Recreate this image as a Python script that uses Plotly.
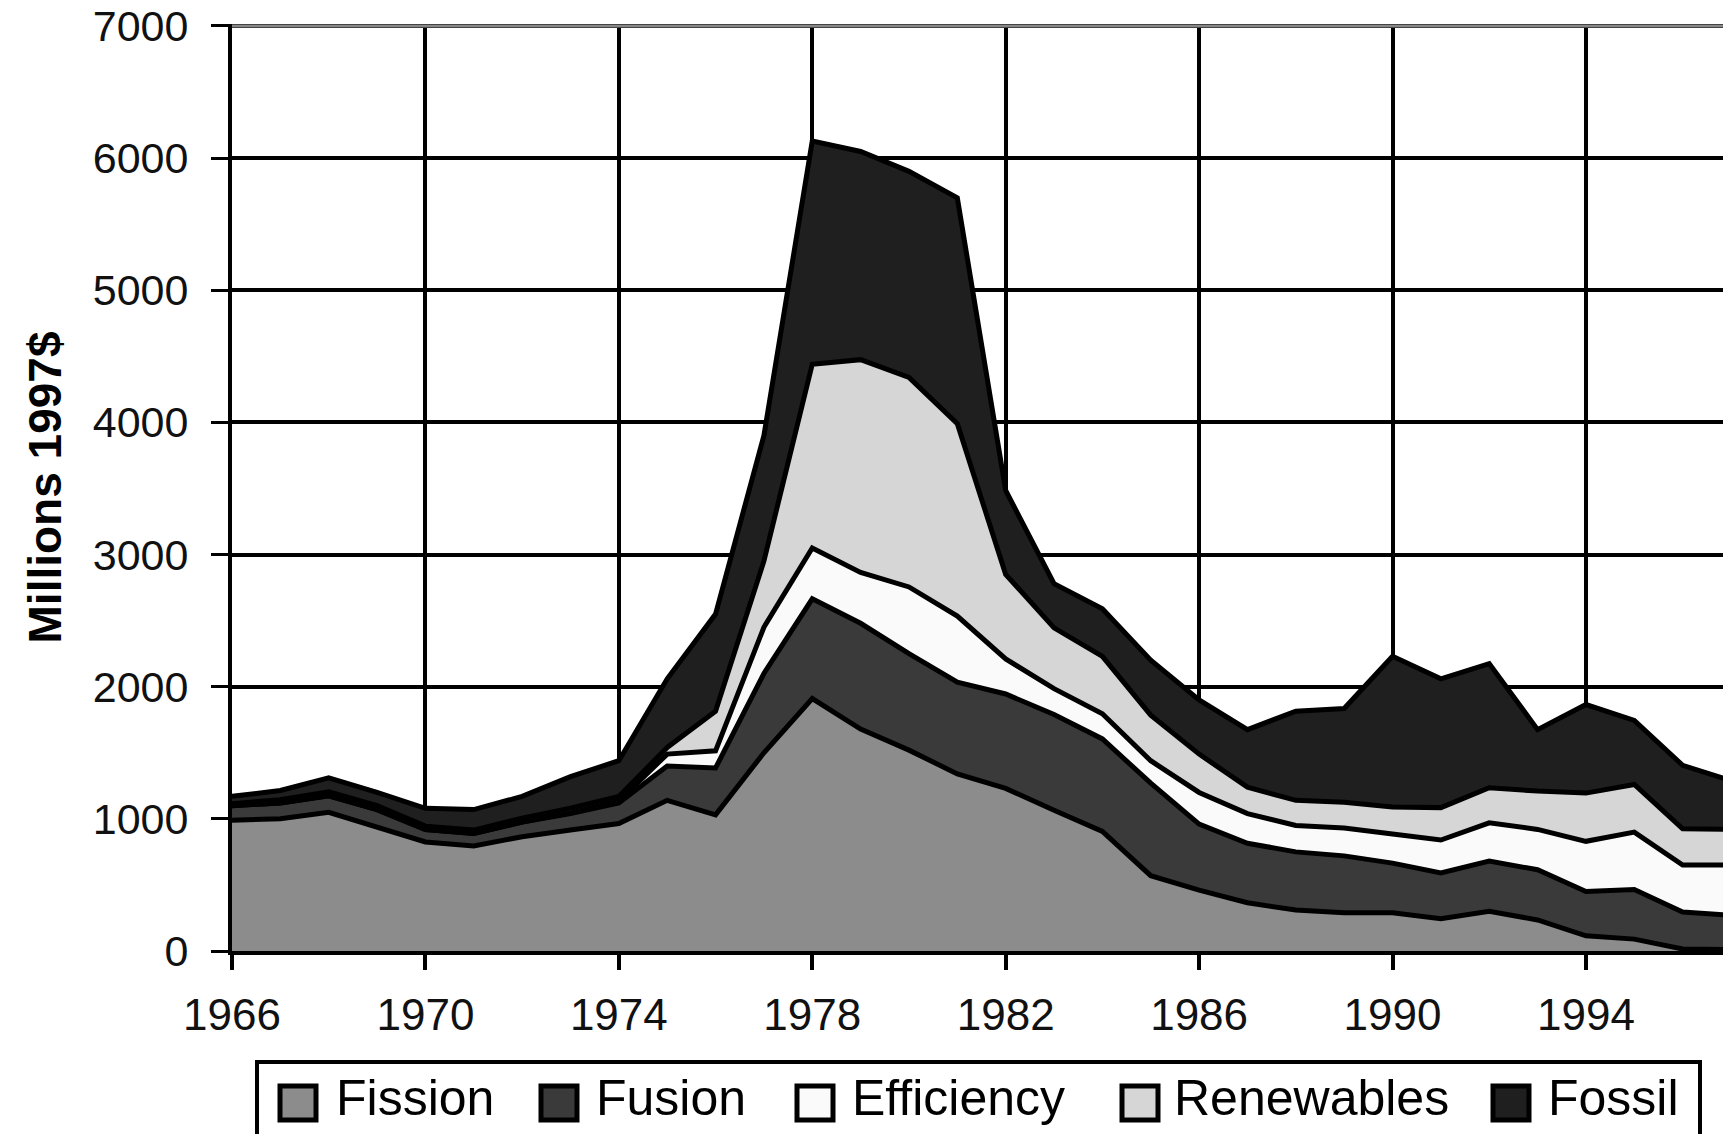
"""Energy R&D spending by technology, stacked area chart."""

import plotly.graph_objects as go

# data, millions of 1997 dollars per year
years = list(range(1966, 1998))
series_names = ["Fission", "Fusion", "Efficiency", "Renewables", "Fossil"]

fission = [990, 1000, 1050, 940, 825, 795, 865, 915, 965, 1140, 1030, 1500, 1910, 1680, 1520, 1340,
           1230, 1065, 905, 570, 460, 365, 310, 290, 290, 245, 300, 235, 115, 90, 15, 10]
fusion = [110, 120, 125, 130, 95, 95, 110, 125, 155, 260, 355, 600, 755, 800, 730, 695,
          715, 725, 700, 700, 500, 450, 440, 430, 375, 345, 380, 380, 335, 375, 280, 260]
efficiency = [0, 0, 0, 0, 0, 0, 0, 5, 15, 90, 130, 350, 385, 385, 505, 500,
              265, 195, 190, 170, 240, 225, 200, 210, 220, 250, 290, 305, 380, 435, 355, 380]
renewables = [15, 25, 30, 30, 25, 25, 30, 35, 35, 50, 300, 500, 1390, 1610, 1585, 1455,
              640, 460, 435, 345, 290, 200, 190, 195, 205, 245, 265, 290, 365, 360, 275, 270]
fossil = [55, 70, 105, 100, 135, 155, 165, 240, 270, 520, 735, 950, 1690, 1575, 1560, 1710,
          635, 335, 360, 415, 410, 435, 675, 710, 1140, 975, 940, 465, 670, 485, 480, 370]

x_ticks = [1966, 1970, 1974, 1978, 1982, 1986, 1990, 1994]
y_ticks = [0, 1000, 2000, 3000, 4000, 5000, 6000, 7000]

# styles
colors = ["#8c8c8c", "#3a3a3a", "#fafafa", "#d6d6d6", "#1f1f1f"]
FONT = "Liberation Sans, Arial, sans-serif"

# the page body adds an 8px margin, so the figure is laid out 8px smaller/shifted
PAGE_PAD = 8
W, H = 1731 - PAGE_PAD, 1134 - PAGE_PAD
L, R, T, B = 232 - PAGE_PAD, 0, 24 - PAGE_PAD, 183
PLOT_W = W - L - R
PLOT_H = H - T - B
Y_MAX = 7015  # a hair above 7000 so the top grid line stays inside the plot

# legend layout in window pixels
legend_symbol_left = [280, 541, 797, 1122, 1493]
legend_text_left = [334, 594, 850, 1172, 1546]


def px_x(px):
    return (px - PAGE_PAD - L) / PLOT_W


def px_y(py):
    return (H - B - (py - PAGE_PAD)) / PLOT_H


fig = go.Figure()

for name, values, color in zip(series_names, [fission, fusion, efficiency, renewables, fossil], colors):
    fig.add_trace(go.Scatter(
        x=years,
        y=values,
        name=name,
        mode="lines",
        stackgroup="one",
        fillcolor=color,
        line=dict(color="black", width=5),
    ))

# grey top border of the plot area
fig.add_shape(type="line", xref="paper", yref="y", x0=0, x1=1, y0=7000, y1=7000,
              line=dict(color="#888888", width=3), layer="above")

# hand-built legend so the swatches are as large as in the original
fig.add_shape(type="rect", xref="paper", yref="paper",
              x0=px_x(257), x1=px_x(1700), y0=px_y(1062), y1=px_y(1170),
              line=dict(color="black", width=4), fillcolor="white")
for name, color, sx, tx in zip(series_names, colors, legend_symbol_left, legend_text_left):
    fig.add_shape(type="rect", xref="paper", yref="paper",
                  x0=px_x(sx), x1=px_x(sx + 36), y0=px_y(1086), y1=px_y(1120),
                  line=dict(color="black", width=5), fillcolor=color)
    fig.add_annotation(text=name, xref="paper", yref="paper", x=px_x(tx), y=px_y(1098),
                       xanchor="left", yanchor="middle", showarrow=False,
                       font=dict(family=FONT, size=50, color="black"))

fig.update_layout(
    width=W,
    height=H,
    margin=dict(l=L, r=R, t=T, b=B),
    plot_bgcolor="white",
    paper_bgcolor="white",
    showlegend=False,
    font=dict(family=FONT, color="#111111"),
)

fig.update_xaxes(
    range=[1966, 1997],
    tickvals=x_ticks,
    automargin=False,
    showgrid=True,
    gridcolor="black",
    gridwidth=3.5,
    showline=True,
    linecolor="black",
    linewidth=4,
    ticks="outside",
    ticklen=15,
    tickwidth=4,
    tickcolor="black",
    tickfont=dict(size=44),
    ticklabelstandoff=7,
    zeroline=False,
)

fig.update_yaxes(
    range=[0, Y_MAX],
    tickvals=y_ticks,
    automargin=False,
    showgrid=True,
    gridcolor="black",
    gridwidth=3.5,
    showline=True,
    linecolor="black",
    linewidth=4,
    ticks="outside",
    ticklen=17,
    tickwidth=3,
    tickcolor="black",
    tickfont=dict(size=43),
    ticklabelstandoff=14,
    ticklabeloverflow="allow",
    zeroline=False,
    title=dict(text="<b>Millions 1997$</b>", font=dict(size=46, color="black"), standoff=18),
)

fig.write_html("out.html")
